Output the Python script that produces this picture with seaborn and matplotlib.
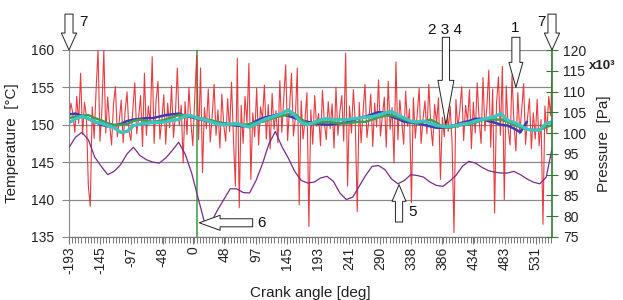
import numpy as np
import pandas as pd
import matplotlib
matplotlib.use("Agg")
import matplotlib.pyplot as plt
import seaborn as sns
from matplotlib.ticker import FixedLocator

sns.set_style("white")
plt.rcParams['font.family'] = ['Liberation Sans', 'DejaVu Sans']

# ---------------- data ----------------
# raw temperature signal (red), sampled every 3 deg starting at -193 deg
RED_START = -193
RED_STEP = 3
red_temp = [
    150.8, 152.9, 151.5, 149.0, 153.8, 150.2, 156.9, 148.7, 153.0, 151.2,
    141.8, 139.1, 152.4, 148.2, 154.6, 160.0, 147.8, 151.9, 160.0, 148.9,
    153.7, 150.1, 147.3, 152.8, 155.1, 148.4, 150.6, 153.3, 147.6, 151.8,
    154.4, 149.2, 147.9, 152.1, 155.6, 148.8, 151.0, 153.9, 147.1, 156.9,
    148.6, 152.5, 150.3, 159.1, 147.5, 153.2, 155.8, 148.1, 150.7, 154.0,
    147.4, 152.9, 149.6, 155.2, 148.3, 151.4, 157.6, 149.9, 152.6, 144.9,
    153.1, 148.7, 155.0, 150.4, 147.2, 153.6, 159.3, 148.0, 157.6, 143.6,
    152.3, 149.5, 154.8, 147.7, 151.1, 155.4, 148.6, 152.0, 146.9, 154.1,
    150.0, 147.8, 153.5, 149.1, 155.7, 148.2, 141.8, 158.9, 138.9, 152.6,
    147.5, 153.8, 150.2, 158.2, 142.7, 151.6, 148.4, 154.9, 147.3, 152.4,
    150.8, 155.3, 148.1, 152.7, 146.8, 154.2, 149.4, 151.9, 147.6, 155.9,
    149.0, 153.4, 158.0, 147.9, 152.2, 156.9, 148.5, 150.9, 157.6, 139.3,
    153.2, 148.1, 150.7, 154.3, 136.4, 152.0, 147.4, 153.9, 149.8, 151.5,
    147.2, 154.6, 150.3, 148.0, 153.1, 149.5, 152.8, 146.9, 155.0, 148.6,
    151.7, 153.9, 147.8, 159.6, 141.8, 152.5, 148.9, 154.7, 150.1, 138.4,
    153.0, 147.6, 151.8, 155.4, 148.3, 150.6, 154.1, 147.1, 152.9, 149.7,
    156.0, 148.5, 151.2, 153.7, 147.0, 155.8, 149.4, 152.3, 144.9, 158.4,
    148.0, 153.3, 150.5, 147.4, 154.5, 149.8, 152.1, 139.6, 153.6, 148.2,
    151.4, 154.9, 147.5, 150.8, 153.2, 148.8, 155.4, 149.9, 147.2, 152.7,
    150.2, 153.6, 142.7, 151.0, 148.4, 154.4, 149.1, 152.5, 147.7, 135.6,
    153.4, 149.6, 151.9, 155.1, 147.9, 152.6, 150.4, 154.7, 146.8, 153.0,
    148.9, 155.6, 150.7, 147.5, 156.3, 149.2, 152.4, 157.3, 147.0, 154.8,
    138.2, 152.9, 156.4, 148.6, 157.8, 140.0, 155.2, 149.5, 147.3, 156.7,
    150.1, 146.5, 154.3, 148.8, 152.0, 155.5, 147.4, 150.9, 153.5, 146.8,
    151.6, 148.1, 153.4, 147.2, 150.7, 136.7, 152.5, 148.9, 153.8, 151.2,
    160.0,
]

# filtered signals on a 10 deg grid starting at -193 deg
SMOOTH_START = -193
SMOOTH_STEP = 10
blue_temp = [
    151.4, 151.5, 151.2, 150.8, 150.4, 150.0, 149.8, 149.9, 150.1, 150.5,
    150.7, 150.8, 150.9, 150.9, 151.1, 151.3, 151.4, 151.5, 151.2, 151.0,
    150.8, 150.6, 150.4, 150.3, 150.2, 150.0, 149.9, 149.8, 150.0, 150.5,
    150.9, 151.1, 151.3, 151.4, 151.2, 150.9, 150.6, 150.4, 150.2, 150.1,
    150.0, 150.1, 150.2, 150.3, 150.6, 150.9, 151.1, 151.4, 151.7, 151.6,
    151.1, 150.8, 150.4, 150.3, 150.2, 150.0, 149.8, 149.6, 149.6, 149.8,
    150.0, 150.3, 150.5, 150.8, 150.8, 150.5, 150.3, 150.0, 149.9, 149.5,
    149.0, 150.4, np.nan, np.nan, np.nan, np.nan,
]
green_temp = [
    150.9, 151.1, 151.2, 151.3, 150.9, 150.6, 150.2, 150.0, 150.0, 150.1,
    150.5, 150.7, 150.5, 150.4, 150.5, 150.7, 151.0, 151.3, 151.3, 151.1,
    150.9, 150.8, 150.6, 150.4, 150.2, 150.1, 150.0, 150.0, 150.1, 150.3,
    150.4, 150.7, 151.0, 151.2, 151.4, 151.5, 150.7, 150.2, 150.2, 150.3,
    150.4, 150.3, 150.2, 150.2, 150.3, 150.4, 150.4, 150.7, 151.0, 151.2,
    151.3, 151.0, 150.7, 150.4, 150.2, 150.4, 150.7, 150.3, 149.7, 149.6,
    149.8, 150.0, 150.1, 150.3, 150.6, 150.7, 150.7, 150.7, 150.4, 150.0,
    149.7, 149.4, 149.3, 149.3, 149.7, 150.0,
]
cyan_temp = [
    150.3, 150.8, 151.1, 150.8, 150.4, 150.2, 149.9, 149.6, 149.0, 149.1,
    149.9, 150.1, 150.2, 150.3, 150.3, 150.4, 150.6, 150.7, 151.2, 151.2,
    150.9, 150.7, 150.4, 150.1, 150.0, 150.1, 150.2, 149.9, 149.7, 150.1,
    150.6, 150.9, 151.2, 151.5, 152.0, 151.3, 150.3, 150.0, 150.3, 150.7,
    150.8, 150.7, 150.7, 150.7, 150.8, 150.9, 151.0, 151.1, 151.3, 151.6,
    151.8, 151.3, 150.9, 150.5, 150.4, 150.5, 150.2, 149.9, 149.8, 149.8,
    149.9, 150.1, 150.2, 150.5, 150.7, 150.9, 151.1, 151.5, 150.6, 150.3,
    149.9, 149.4, 149.3, 149.3, 150.2, 150.4,
]
# pressure in kPa (x10^3 Pa), right axis
purple_pressure = [
    96.5, 99.0, 100.2, 98.4, 94.2, 92.0, 90.0, 90.8, 92.4, 95.0,
    96.6, 94.6, 93.6, 93.0, 92.8, 94.0, 95.8, 97.8, 95.0, 90.5,
    84.5, 78.6, 78.4, 81.4, 84.0, 86.6, 86.6, 85.7, 85.6, 88.6,
    92.6, 97.4, 100.4, 96.8, 94.0, 90.8, 88.6, 88.0, 88.2, 89.2,
    89.6, 88.4, 85.6, 84.0, 84.6, 87.2, 89.8, 92.0, 92.2, 91.2,
    89.0, 87.8, 88.6, 90.0, 89.8, 89.4, 88.2, 87.4, 87.2, 88.4,
    89.8, 92.0, 93.2, 92.8, 91.8, 91.0, 90.6, 90.4, 90.4, 90.8,
    90.0, 89.0, 88.2, 87.8, 89.4, 97.0,
]

xtick_labels = ["-193", "-145", "-97", "-48", "0", "48", "97", "145", "193",
                "241", "290", "338", "386", "434", "483", "531"]
temp_ticks = [135, 140, 145, 150, 155, 160]
pres_ticks = [75, 80, 85, 90, 95, 100, 105, 110, 115, 120]

red_df = pd.DataFrame({
    "angle": RED_START + RED_STEP * np.arange(len(red_temp)),
    "temp": red_temp,
})
smooth_df = pd.DataFrame({
    "angle": SMOOTH_START + SMOOTH_STEP * np.arange(len(blue_temp)),
    "blue": blue_temp,
    "green": green_temp,
    "cyan": cyan_temp,
    "pressure": purple_pressure,
})

# ---------------- figure ----------------
W, H = 623, 300
fig = plt.figure(figsize=(W / 100, H / 100), dpi=100)
L, R, T, B = 69, 552, 50, 237
ax = fig.add_axes([L / W, 1 - B / H, (R - L) / W, (B - T) / H])
ax2 = ax.twinx()

XMIN, XMAX = -193, 556
ax.set_xlim(XMIN, XMAX)
ax.set_ylim(135, 160)
ax2.set_ylim(75, 120)

ax.set_axisbelow(True)
ax.grid(axis="y", color="#8a8a8a", linewidth=0.9)
ax.grid(axis="x", visible=False)

# zero-crank and start markers (green)
ax.axvline(5, color="#3a9a3a", linewidth=1.1, zorder=1)
ax.axvline(XMIN, ymin=0, ymax=0.09, color="#3a9a3a", linewidth=1.1, zorder=1)

sns.lineplot(data=red_df, x="angle", y="temp", ax=ax, color="#e8262b",
             linewidth=0.8, estimator=None, sort=False, alpha=0.9)
sns.lineplot(data=smooth_df, x="angle", y="blue", ax=ax, color="#3b3bb5",
             linewidth=1.8, estimator=None, sort=False)
sns.lineplot(data=smooth_df, x="angle", y="green", ax=ax, color="#3f9d55",
             linewidth=1.8, estimator=None, sort=False)
sns.lineplot(data=smooth_df, x="angle", y="cyan", ax=ax, color="#3cc4c0",
             linewidth=2.4, estimator=None, sort=False)
sns.lineplot(data=smooth_df, x="angle", y="pressure", ax=ax2, color="#7b2a8c",
             linewidth=0.9, estimator=None, sort=False)

# ticks
ax.set_xticks([float(v) for v in xtick_labels])
ax.set_xticklabels(xtick_labels, rotation=90)
ax.xaxis.set_minor_locator(FixedLocator(np.arange(XMIN, XMAX + 0.1, 48.27 / 10)))
ax.set_yticks(temp_ticks)
ax.set_yticklabels([str(v) for v in temp_ticks])
ax2.set_yticks(pres_ticks)
ax2.set_yticklabels([str(v) for v in pres_ticks])

tick_col = "#222222"
ax.tick_params(axis="x", which="major", direction="out", length=5, width=0.8,
               color="#777777", labelsize=10, labelcolor=tick_col, pad=2, bottom=True)
ax.tick_params(axis="x", which="minor", direction="out", length=4, width=0.7,
               color="#777777", bottom=True)
ax.tick_params(axis="y", direction="out", length=5, width=0.8, color="#888888",
               labelsize=10, labelcolor=tick_col, pad=6, left=True)
ax2.tick_params(axis="y", direction="inout", length=8, width=0.8, color="#2e7d32",
                labelsize=10, labelcolor=tick_col, pad=4, right=True)

for s in ["top", "right"]:
    ax.spines[s].set_visible(False)
ax.spines["left"].set_color("#888888")
ax.spines["bottom"].set_color("#777777")
for s in ["top", "left", "bottom"]:
    ax2.spines[s].set_visible(False)
ax2.spines["right"].set_color("#2e7d32")
ax2.spines["right"].set_linewidth(1.2)

ax.set_ylabel("Temperature  [°C]", fontsize=11, labelpad=8, color=tick_col)
ax2.set_ylabel("Pressure  [Pa]", fontsize=11, labelpad=8, color=tick_col)
ax.set_xlabel("Crank angle [deg]", fontsize=11, labelpad=8, color=tick_col)
fig.text(589 / W, 1 - 66 / H, "x10³", fontsize=9.5, fontweight="bold",
         ha="left", va="center", color=tick_col)

# ---------------- block arrows ----------------
def block_arrow(tip, tail, hl, hw, tw):
    ax2.annotate("", xy=tip, xytext=tail, xycoords=ax.transData,
                 textcoords=ax.transData, annotation_clip=False, zorder=10,
                 arrowprops=dict(
                     arrowstyle=f"simple,head_length={hl},head_width={hw},tail_width={tw}",
                     fc="white", ec="#222222", lw=0.7, shrinkA=0, shrinkB=0,
                     mutation_scale=10))

def label(x, y, s, ha="center"):
    ax2.text(x, y, s, transform=ax.transData, fontsize=11, ha=ha, va="center",
             color="#111111", clip_on=False, zorder=11)

block_arrow((-193, 160.0), (-193, 164.8), 1.22, 1.1, 0.58)
label(-170, 163.7, "7")
block_arrow((556, 160.0), (556, 164.8), 1.22, 1.1, 0.58)
label(539, 163.7, "7")
block_arrow((391.5, 150.0), (391.5, 161.7), 3.2, 1.15, 0.52)
label(390, 162.7, "2 3 4")
block_arrow((500, 155.0), (500, 161.7), 1.8, 1.0, 0.58)
label(498.5, 162.9, "1")
block_arrow((318.8, 142.0), (318.8, 137.0), 1.2, 1.0, 0.52)
label(334, 138.3, "5", ha="left")
block_arrow((9, 136.9), (91.8, 136.9), 1.5, 1.08, 0.58)
label(98.5, 136.9, "6", ha="left")

fig.savefig("out.png", dpi=100)
